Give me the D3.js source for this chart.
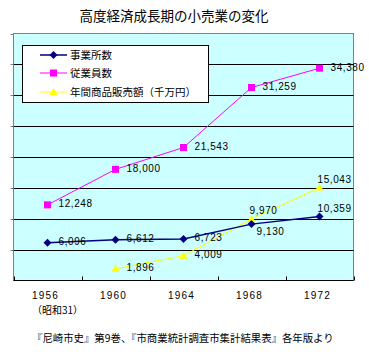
<!DOCTYPE html>
<html><head><meta charset="utf-8">
<script src="https://cdn.jsdelivr.net/npm/d3@7"></script>
<style>
html,body{margin:0;padding:0;background:#fff;}
svg{display:block;}
</style></head>
<body>
<script>
const title = "高度経済成長期の小売業の変化";
const years = ["1956","1960","1964","1968","1972"];
const yearNote = "（昭和31）";
const seriesNames = ["事業所数","従業員数","年間商品販売額（千万円）"];
const establishments = [6096, 6612, 6723, 9130, 10359];
const employees = [12248, 18000, 21543, 31259, 34380];
const sales = [null, 1896, 4009, 9970, 15043];
const gridValues = [5000, 10000, 15000, 20000, 25000, 30000, 35000];
const source = "『尼崎市史』第9巻、『市商業統計調査市集計結果表』各年版より";

// label placement per point: r = right, a = above, b = below-right
const estPlace = ["r","r","r","b","a"];
const empPlace = ["r","r","r","r","r"];
const salesPlace = [null,"r","r","a","a"];

const W = 369, H = 357;
const svg = d3.select("body").append("svg").attr("width", W).attr("height", H);
const CJK = "'Noto Sans CJK JP','Noto Sans CJK SC',sans-serif";
const NUM = "'Liberation Sans',Arial,sans-serif";

const L = 13.5, R = 353.5, T = 33.5, B = 280.5;
const x = d3.scaleBand().domain(years).range([L, R]);
const y = d3.scaleLinear().domain([0, 40000]).range([B, T]);

// title
svg.append("text").attr("x", 174).attr("y", 21).attr("text-anchor","middle")
  .style("font-family", CJK).style("font-size","13.5px").attr("fill","#000").text(title);

// plot bg
svg.append("rect").attr("x", L).attr("y", T).attr("width", R-L).attr("height", B-T)
  .attr("fill", "#ccffff").attr("stroke", "#808080").attr("stroke-width", 1);

// gridlines
svg.selectAll("line.grid").data(gridValues).enter().append("line")
  .attr("x1", L).attr("x2", R)
  .attr("y1", d => Math.round(y(d)) + 0.5).attr("y2", d => Math.round(y(d)) + 0.5)
  .attr("stroke", "#000").attr("stroke-width", 1);
// small left ticks
svg.selectAll("line.lt").data(gridValues.concat([40000])).enter().append("line")
  .attr("x1", L-3).attr("x2", L)
  .attr("y1", d => Math.round(y(d)) + 0.5).attr("y2", d => Math.round(y(d)) + 0.5)
  .attr("stroke", "#808080").attr("stroke-width", 1);

// x axis
const xAxis = d3.axisBottom(x).tickSize(0).tickFormat("");
const gx = svg.append("g").attr("transform", `translate(0,${B})`).call(xAxis);
gx.select(".domain").attr("stroke", "#000").attr("d", `M${L},0H${R}`);
const bounds = years.map(d => x(d)).concat([R]);
svg.selectAll("line.xt").data(bounds).enter().append("line")
  .attr("x1", d => Math.round(d) + 0.5).attr("x2", d => Math.round(d) + 0.5)
  .attr("y1", B - 4).attr("y2", B).attr("stroke", "#000");

svg.selectAll("text.xl").data(years).enter().append("text")
  .attr("x", d => x(d) + x.bandwidth()/2 - 2).attr("y", 299)
  .attr("text-anchor","middle").style("font-family", NUM).style("font-size","10px")
  .style("letter-spacing","1.2px").text(d => d);
svg.append("text").attr("x", 32).attr("y", 314)
  .style("font-family", CJK).style("font-size","10px").text(yearNote);

// source
svg.append("text").attr("x", 32).attr("y", 342)
  .style("font-family", CJK).style("font-size","10.4px").text(source);

const cx = i => x(years[i]) + x.bandwidth()/2;

function drawSeries(vals, color, width, marker, places) {
  const pts = vals.map((v, i) => ({v, i, p: places[i]})).filter(d => d.v != null);
  const line = d3.line().x(d => cx(d.i)).y(d => y(d.v));
  svg.append("path").datum(pts).attr("d", line).attr("fill","none")
    .attr("stroke", color).attr("stroke-width", width);
  const g = svg.append("g");
  pts.forEach(d => {
    const px = cx(d.i), py = y(d.v);
    if (marker === "diamond") {
      g.append("path").attr("d", `M${px},${py-4}L${px+4},${py}L${px},${py+4}L${px-4},${py}Z`).attr("fill", color);
    } else if (marker === "square") {
      g.append("rect").attr("x", px-3.5).attr("y", py-3.5).attr("width", 7).attr("height", 7).attr("fill", color);
    } else {
      g.append("path").attr("d", `M${px},${py-4}L${px+4},${py+3}L${px-4},${py+3}Z`).attr("fill", color);
    }
  });
  return pts;
}

function drawLabels(pts) {
  pts.forEach(d => {
    const px = cx(d.i), py = y(d.v);
    let tx, ty;
    if (d.p === "r") { tx = px + 11; ty = py - 1; }
    else if (d.p === "a") { tx = px - 2; ty = py - 8; }
    else { tx = px + 5; ty = py + 7; }
    svg.append("text").attr("x", tx).attr("y", ty).attr("dy", "0.35em")
      .style("font-family", NUM).style("font-size","10px").style("letter-spacing","0.6px")
      .attr("fill","#000").text(d3.format(",")(d.v));
  });
}

const pSales = drawSeries(sales, "#ffff00", 1, "triangle", salesPlace);
const pEmp = drawSeries(employees, "#ff00ff", 1, "square", empPlace);
const pEst = drawSeries(establishments, "#000080", 1.5, "diamond", estPlace);
drawLabels(pEst); drawLabels(pEmp); drawLabels(pSales);

// legend
const lg = svg.append("g");
lg.append("rect").attr("x", 22.5).attr("y", 45.5).attr("width", 186).attr("height", 57)
  .attr("fill", "#fff").attr("stroke", "#000");
const legendItems = [
  {name: seriesNames[0], color: "#000080", marker: "diamond", w: 1.5},
  {name: seriesNames[1], color: "#ff00ff", marker: "square", w: 1},
  {name: seriesNames[2], color: "#ffff00", marker: "triangle", w: 1}
];
const ly = [55, 73, 92];
legendItems.forEach((it, k) => {
  const yy = ly[k];
  lg.append("line").attr("x1", 40).attr("x2", 67).attr("y1", yy).attr("y2", yy)
    .attr("stroke", it.color).attr("stroke-width", it.w);
  const px = 53.5;
  if (it.marker === "diamond") lg.append("path").attr("d", `M${px},${yy-4}L${px+4},${yy}L${px},${yy+4}L${px-4},${yy}Z`).attr("fill", it.color);
  else if (it.marker === "square") lg.append("rect").attr("x", px-3.5).attr("y", yy-3.5).attr("width",7).attr("height",7).attr("fill", it.color);
  else lg.append("path").attr("d", `M${px},${yy-4}L${px+4},${yy+3}L${px-4},${yy+3}Z`).attr("fill", it.color);
  lg.append("text").attr("x", 70).attr("y", yy).attr("dy","0.35em")
    .style("font-family", CJK).style("font-size","10.5px").text(it.name);
});
</script>
</body></html>
